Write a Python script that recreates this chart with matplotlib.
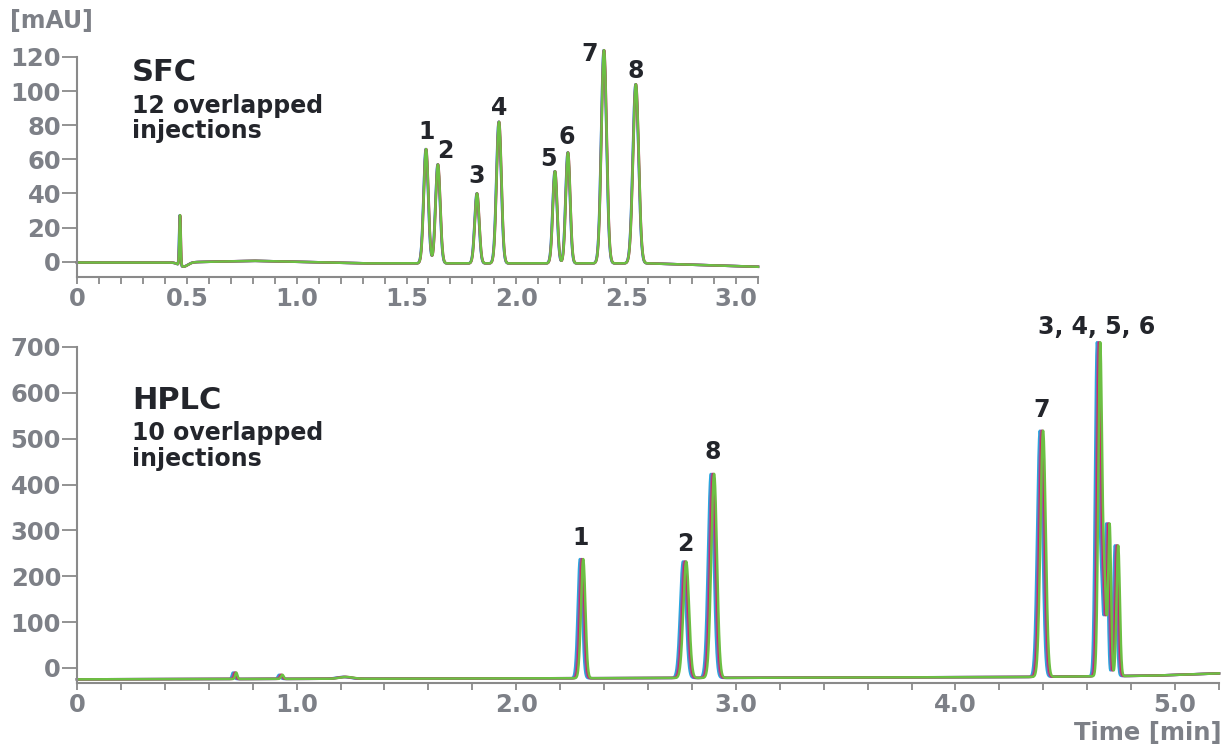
import numpy as np
import matplotlib
matplotlib.use('Agg')
import matplotlib.pyplot as plt
from matplotlib.ticker import MultipleLocator, FuncFormatter

plt.rcParams['font.family'] = ['DejaVu Sans']

# ---- SFC peak table (retention time [min], height above baseline [mAU], sigma [min])
sfc_rt = [0.469, 0.485, 1.589, 1.643, 1.821, 1.921, 2.176, 2.235, 2.399, 2.544]
sfc_height = [29.5, -2.5, 67, 58, 41, 83, 54, 65, 125, 105]
sfc_sigma = [0.003, 0.020, 0.0105, 0.0105, 0.010, 0.011, 0.010, 0.010, 0.012, 0.013]
sfc_labels = ['1', '2', '3', '4', '5', '6', '7', '8']
sfc_label_rt = [1.589, 1.675, 1.820, 1.921, 2.148, 2.230, 2.335, 2.544]
sfc_label_y = [76, 65, 50, 90, 60, 73, 122, 112]
# baseline knots
sfc_base_t = [0.0, 0.45, 0.8, 1.3, 2.6, 3.1]
sfc_base_v = [-0.5, -0.5, 0.5, -1.0, -1.0, -3.0]
# injection-to-injection retention shift [min]
sfc_shift = [-0.0015, -0.001, 0.0005, 0.0]

# ---- HPLC peak table
hplc_rt = [0.720, 0.930, 1.22, 2.300, 2.769, 2.896, 4.394, 4.654, 4.674, 4.697, 4.736]
hplc_height = [14, 9, 4, 260, 254, 445, 537, 720, 190, 330, 285]
hplc_sigma = [0.005, 0.006, 0.03, 0.010, 0.013, 0.013, 0.012, 0.0085, 0.008, 0.0065, 0.0075]
hplc_labels = ['1', '2', '8', '7', '3, 4, 5, 6']
hplc_label_rt = [2.295, 2.769, 2.896, 4.394, 4.645]
hplc_label_y = [283, 270, 471, 562, 743]
hplc_base_t = [0.0, 2.0, 4.3, 4.9, 5.2]
hplc_base_v = [-25, -23, -20, -17, -12]
hplc_shift = [-0.010, -0.004, 0.001, 0.005]

colors = ['#29a8e0', '#8f5aa8', '#cc2266', '#6cbf43']


def trace(t, rt, height, sigma, base_t, base_v, shift):
    y = np.interp(t, base_t, base_v)
    for r, h, s in zip(rt, height, sigma):
        y = y + h * np.exp(-0.5 * ((t - r - shift) / s) ** 2)
    return y


W, H = 1227, 750
fig = plt.figure(figsize=(W / 100, H / 100), dpi=100)
ax1 = fig.add_axes([77 / W, 1 - 277 / H, 681 / W, 220 / H])
ax2 = fig.add_axes([77 / W, 1 - 683 / H, 1142 / W, 336 / H])

grey = '#7d8087'
dark = '#23252b'

t1 = np.linspace(0, 3.1, 4000)
for c, sh in zip(colors, sfc_shift):
    ax1.plot(t1, trace(t1, sfc_rt, sfc_height, sfc_sigma, sfc_base_t, sfc_base_v, sh),
             color=c, lw=1.8, clip_on=False)

t2 = np.linspace(0, 5.2, 6000)
for c, sh in zip(colors, hplc_shift):
    ax2.plot(t2, trace(t2, hplc_rt, hplc_height, hplc_sigma, hplc_base_t, hplc_base_v, sh),
             color=c, lw=1.8, clip_on=False)

ax1.set_xlim(0, 3.1)
ax1.set_ylim(-9, 120)
ax1.yaxis.set_major_locator(MultipleLocator(20))
ax1.xaxis.set_major_locator(MultipleLocator(0.5))
ax1.xaxis.set_minor_locator(MultipleLocator(0.1))

ax2.set_xlim(0, 5.2)
ax2.set_ylim(-33, 700)
ax2.yaxis.set_major_locator(MultipleLocator(100))
ax2.xaxis.set_major_locator(MultipleLocator(1.0))
ax2.xaxis.set_minor_locator(MultipleLocator(0.2))

fmt = FuncFormatter(lambda v, p: '0' if abs(v) < 1e-9 else f'{v:.1f}')
for ax in (ax1, ax2):
    ax.xaxis.set_major_formatter(fmt)
    for s in ('top', 'right'):
        ax.spines[s].set_visible(False)
    for s in ('left', 'bottom'):
        ax.spines[s].set_color('#8a8a8a')
        ax.spines[s].set_linewidth(1.5)
    ax.tick_params(axis='both', which='both', colors='#8a8a8a', width=1.3,
                   labelcolor=grey, labelsize=17.5)
    ax.tick_params(axis='y', length=11, pad=0.5)
    ax.tick_params(axis='x', which='major', length=5, pad=2)
    ax.tick_params(axis='x', which='minor', length=5)
    for lab in ax.get_xticklabels() + ax.get_yticklabels():
        lab.set_fontweight('bold')


def px_text(x, y, s, **kw):
    fig.text(x / W, 1 - y / H, s, **kw)


# panel annotations (pixel positions, baseline aligned)
px_text(132, 81, 'SFC', fontsize=22, color=dark, fontweight='bold', va='baseline')
px_text(132, 113, '12 overlapped', fontsize=17, color=dark, fontweight='bold', va='baseline')
px_text(132, 138, 'injections', fontsize=17, color=dark, fontweight='bold', va='baseline')
px_text(132, 409, 'HPLC', fontsize=22, color=dark, fontweight='bold', va='baseline')
px_text(132, 440, '10 overlapped', fontsize=17, color=dark, fontweight='bold', va='baseline')
px_text(132, 466, 'injections', fontsize=17, color=dark, fontweight='bold', va='baseline')

for lab, x, y in zip(sfc_labels, sfc_label_rt, sfc_label_y):
    ax1.text(x, y, lab, ha='center', va='center', fontsize=17, fontweight='bold', color=dark)
for lab, x, y in zip(hplc_labels, hplc_label_rt, hplc_label_y):
    ax2.text(x, y, lab, ha='center', va='center', fontsize=17, fontweight='bold', color=dark)

px_text(10, 21, '[mAU]', fontsize=17, fontweight='bold', color=grey, va='center')
px_text(1222, 733, 'Time [min]', fontsize=17.5, fontweight='bold', color=grey,
        va='center', ha='right')

fig.savefig('out.png', dpi=100)
